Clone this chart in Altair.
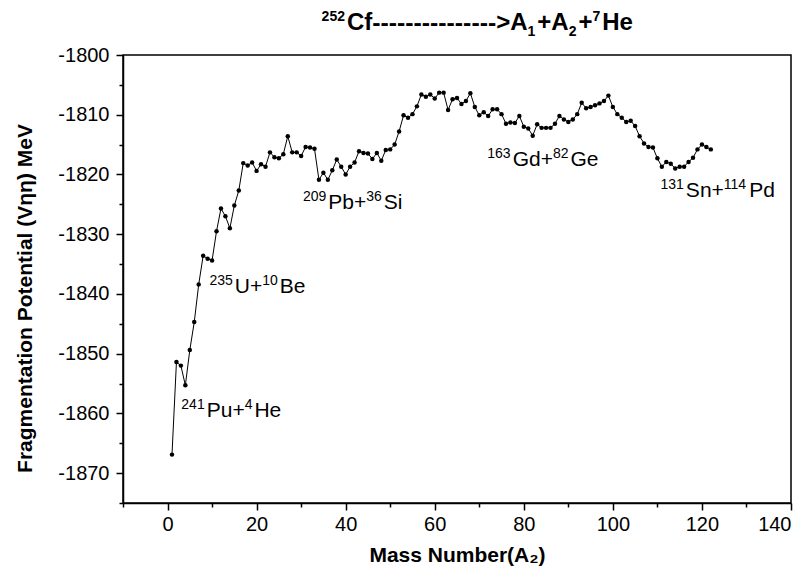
import re
import altair as alt
import pandas as pd

# ---- data ----
mass_number = list(range(1, 123))
potential = [
    -1866.9, -1851.4, -1852.0, -1855.3, -1849.4, -1844.7, -1838.4, -1833.6, -1834.1, -1834.4,
    -1829.5, -1825.7, -1827.0, -1829.0, -1825.2, -1822.7, -1818.1, -1818.5, -1818.0, -1819.4,
    -1818.3, -1818.7, -1816.3, -1817.1, -1817.3, -1816.6, -1813.6, -1816.3, -1816.3, -1816.9,
    -1815.4, -1815.5, -1815.7, -1820.9, -1819.7, -1820.9, -1819.3, -1817.5, -1818.7, -1820.0,
    -1818.7, -1818.0, -1816.1, -1816.4, -1816.5, -1817.4, -1816.4, -1817.7, -1815.9, -1815.8,
    -1815.0, -1812.8, -1810.1, -1810.5, -1809.9, -1808.6, -1806.6, -1807.0, -1806.6, -1807.3,
    -1806.3, -1806.3, -1809.2, -1807.4, -1807.2, -1808.2, -1807.7, -1806.4, -1808.7, -1810.1,
    -1809.6, -1810.2, -1809.1, -1809.1, -1809.9, -1811.5, -1811.3, -1811.4, -1810.2, -1812.0,
    -1812.3, -1813.5, -1811.6, -1812.2, -1812.2, -1812.2, -1811.5, -1810.2, -1810.8, -1811.2,
    -1810.8, -1809.9, -1808.0, -1808.9, -1808.7, -1808.4, -1808.1, -1807.7, -1806.8, -1808.7,
    -1809.9, -1810.5, -1811.2, -1811.0, -1811.9, -1813.6, -1814.8, -1815.4, -1815.5, -1817.3,
    -1818.7, -1817.9, -1818.2, -1819.0, -1818.7, -1818.7, -1817.9, -1817.2, -1815.8, -1815.0,
    -1815.4, -1815.8,
]

# annotation texts (^{..} = superscript) and their anchors in data units
ann_text = ["^{241}Pu+^{4}He", "^{235}U+^{10}Be", "^{209}Pb+^{36}Si", "^{163}Gd+^{82}Ge", "^{131}Sn+^{114}Pd"]
ann_x = [3.1, 9.4, 30.4, 71.8, 110.7]
ann_y = [-1859.4, -1838.6, -1824.5, -1817.3, -1822.5]

title_text = "^{252}Cf--------------->A_{1}+A_{2}+^{7}He"
title_x = [34.6]
title_y = [-1795.8]

x_ticks = list(range(-10, 141, 10))
y_ticks = list(range(-1875, -1799, 5))

# ---- layout constants ----
FONT = "Liberation Sans"
W, H = 668, 448
X_DOM = [-10, 140]
Y_DOM = [-1875, -1800]
PXX = W / (X_DOM[1] - X_DOM[0])   # px per x unit
PXY = H / (Y_DOM[1] - Y_DOM[0])   # px per y unit

# Arial / Liberation Sans advance widths (1/1000 em)
W_REG = {"0": 556, "1": 556, "2": 556, "3": 556, "4": 556, "5": 556, "6": 556, "7": 556,
         "8": 556, "9": 556, "P": 667, "u": 556, "+": 584, "H": 722, "e": 556, "U": 722,
         "B": 667, "b": 556, "S": 667, "i": 222, "G": 778, "d": 556, "n": 556}
W_BOLD = {"0": 556, "1": 556, "2": 556, "3": 556, "4": 556, "5": 556, "6": 556, "7": 556,
          "8": 556, "9": 556, "C": 722, "f": 333, "-": 333, ">": 584, "A": 722, "+": 584,
          "H": 722, "e": 556}

SEG_RE = re.compile(r"\^\{([^}]*)\}|_\{([^}]*)\}|(-{3,})|([^^_\-]+|-)")


def segments(markup):
    out = []
    for m in SEG_RE.finditer(markup):
        if m.group(1) is not None:
            out.append((m.group(1), "sup"))
        elif m.group(2) is not None:
            out.append((m.group(2), "sub"))
        elif m.group(3) is not None:
            out.append((m.group(3), "dash"))
        else:
            out.append((m.group(4), "main"))
    return out


def width(s, size, table):
    return sum(table.get(c, 556) for c in s) * size / 1000.0


ANN_STYLE = {"main": (21, 0), "sup": (14, 8)}
TITLE_STYLE = {"main": (24, 0), "sup": (14, 9), "sub": (14, -6), "dash": (24.8, -1)}


def layout(markup, ax, ay_center, styles, table, prefix, cap, gap):
    rows = []
    off = 0.0
    base_v = ay_center - (cap / 2.0) / PXY  # baseline of the main text
    for txt, kind in segments(markup):
        size, raise_px = styles[kind]
        rows.append({"x": ax + off / PXX, "y": base_v + raise_px / PXY,
                     "text": txt, "style": prefix + kind})
        off += width(txt, size, table)
        if kind in ("sup", "sub"):
            off += gap
    return rows


seg_rows = []
for t, x, y in zip(ann_text, ann_x, ann_y):
    seg_rows += layout(t, x, y, ANN_STYLE, W_REG, "ann_", 15, 2.0)
seg_rows += layout(title_text, title_x[0], title_y[0], TITLE_STYLE, W_BOLD, "ttl_", 0, 2.0)
seg_df = pd.DataFrame(seg_rows)

df = pd.DataFrame({"A2": mass_number, "V": potential})

xscale = alt.Scale(domain=X_DOM, nice=False, zero=False)
yscale = alt.Scale(domain=Y_DOM, nice=False, zero=False)

xaxis = alt.Axis(
    title="Mass Number(A₂)",
    values=x_ticks,
    labelExpr="datum.value % 20 === 0 ? '' + datum.value : ''",
    tickSize={"condition": {"test": "datum.value % 20 === 0", "value": 7}, "value": 4},
    labelPadding=4,
    titleY=58,
    titleBaseline="alphabetic",
    titleFontSize=21,
    grid=False,
)
yaxis = alt.Axis(
    title="Fragmentation Potential (Vηη) MeV",
    values=y_ticks,
    labelExpr="datum.value % 10 === 0 ? '' + datum.value : ''",
    tickSize={"condition": {"test": "datum.value % 10 === 0", "value": 7}, "value": 4},
    labelPadding=7,
    titleX=-98,
    titleY=243,
    titleAngle=270,
    titleBaseline="middle",
    titleAlign="center",
    titleFontSize=21,
    grid=False,
)

base = alt.Chart(df).encode(
    x=alt.X("A2:Q", scale=xscale, axis=xaxis),
    y=alt.Y("V:Q", scale=yscale, axis=yaxis),
)

line = base.mark_line(color="black", strokeWidth=1)
pts = base.mark_circle(color="black", opacity=1, size=20)

text_layers = []
style_props = {
    "ann_main": dict(fontSize=21, fontWeight="normal"),
    "ann_sup": dict(fontSize=14, fontWeight="normal"),
    "ttl_main": dict(fontSize=24, fontWeight="bold"),
    "ttl_sup": dict(fontSize=14, fontWeight="bold"),
    "ttl_sub": dict(fontSize=14, fontWeight="bold"),
    "ttl_dash": dict(fontSize=24.8, fontWeight="bold"),
}
for style, props in style_props.items():
    text_layers.append(
        alt.Chart(seg_df)
        .transform_filter(alt.datum.style == style)
        .mark_text(align="left", baseline="alphabetic", font=FONT, color="black", **props)
        .encode(
            x=alt.X("x:Q", scale=xscale, axis=xaxis),
            y=alt.Y("y:Q", scale=yscale, axis=yaxis),
            text="text:N",
        )
    )

chart = alt.layer(line, pts, *text_layers).properties(
    width=W,
    height=H,
    autosize=alt.AutoSizeParams(type="none"),
    padding={"left": 115, "top": 47, "right": 10, "bottom": 64},
).configure_view(
    stroke="black", strokeWidth=1.5
).configure_axis(
    domainColor="black",
    domainWidth=1.5,
    tickColor="black",
    tickWidth=1.5,
    labelFont=FONT,
    labelFontSize=20,
    labelColor="black",
    titleFont=FONT,
    titleFontWeight="bold",
    titleColor="black",
)

chart.save("out.html", embed_options={"renderer": "svg", "actions": False})
